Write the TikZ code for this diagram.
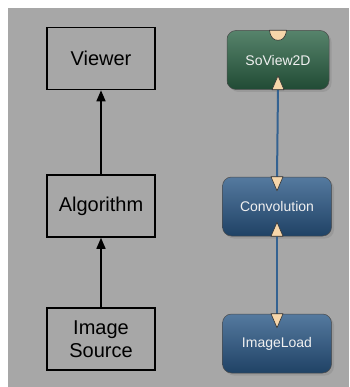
\documentclass[tikz,border=0pt]{standalone}
\usepackage{fontspec}
\setmainfont{Liberation Sans}
\usetikzlibrary{arrows.meta,shadows}

\definecolor{bggray}{RGB}{167,167,167}
\definecolor{viewgreen}{RGB}{44,100,70}
\definecolor{modblue}{RGB}{42,88,135}
\definecolor{linkblue}{RGB}{52,98,145}
\definecolor{portpeach}{RGB}{246,214,170}

\tikzset{
  block/.style={draw=black, line width=1.6pt, minimum width=108pt, minimum height=62pt,
    inner sep=0pt, font=\fontsize{20}{23}\selectfont, align=center},
  flow/.style={line width=1.5pt, -{Triangle[width=9pt,length=11pt]}},
  module/.style={rounded corners=9pt, draw=black!70, line width=.5pt, minimum height=59pt,
    inner sep=0pt, font=\fontsize{14}{16}\selectfont, text=white!88!gray,
    drop shadow={shadow xshift=2.5pt, shadow yshift=-2.5pt, opacity=.35}},
  greenmod/.style={module, top color=viewgreen!80!white, bottom color=viewgreen!75!black},
  bluemod/.style={module, top color=modblue!80!white, bottom color=modblue!75!black},
  port/.style={fill=portpeach, draw=black!80, line width=.6pt, line join=round},
  link/.style={draw=linkblue, line width=2pt}
}

% порты модулей
\newcommand\portdown[1]{\draw[port, shift={(#1)}] (-6,0) -- (6,0) -- (0,14) -- cycle;}
\newcommand\portup[1]{\draw[port, shift={(#1)}] (-6,0) -- (6,0) -- (0,-14) -- cycle;}
\newcommand\portout[1]{\draw[port, shift={(#1)}] (-8.5,0) -- (8.5,0) .. controls (7.5,8) and (4,10) .. (0,10) .. controls (-4,10) and (-7.5,8) .. (-8.5,0) -- cycle;}

\begin{document}
\begin{tikzpicture}[x=1pt, y=-1pt]
    \useasboundingbox (0,0) rectangle (349,387);
    \fill[white] (0,0) rectangle (349,387);
    \fill[bggray] (8,8) rectangle (349,387);

    % Левая схема
    \node[block] (viewer) at (101,58.5) {Viewer};
    \node[block] (algo) at (101,206) {Algorithm};
    \node[block] (source) at (101,339) {Image\\Source};

    \draw[flow] (algo) -- (viewer);
    \draw[flow] (source) -- (algo);

    % Правая схема
    \node[greenmod, minimum width=102pt] (view2d) at (278,60) {SoView2D};
    \node[bluemod, minimum width=109pt] (conv) at (277,206.5) {Convolution};
    \node[bluemod, minimum width=109pt] (load) at (277,343.5) {ImageLoad};

    \draw[link] (view2d.south) -- (conv.north);
    \draw[link] (conv.south) -- (load.north);

    \portout{view2d.north}
    \portup{view2d.south}
    \portdown{conv.north}
    \portup{conv.south}
    \portdown{load.north}
\end{tikzpicture}
\end{document}
